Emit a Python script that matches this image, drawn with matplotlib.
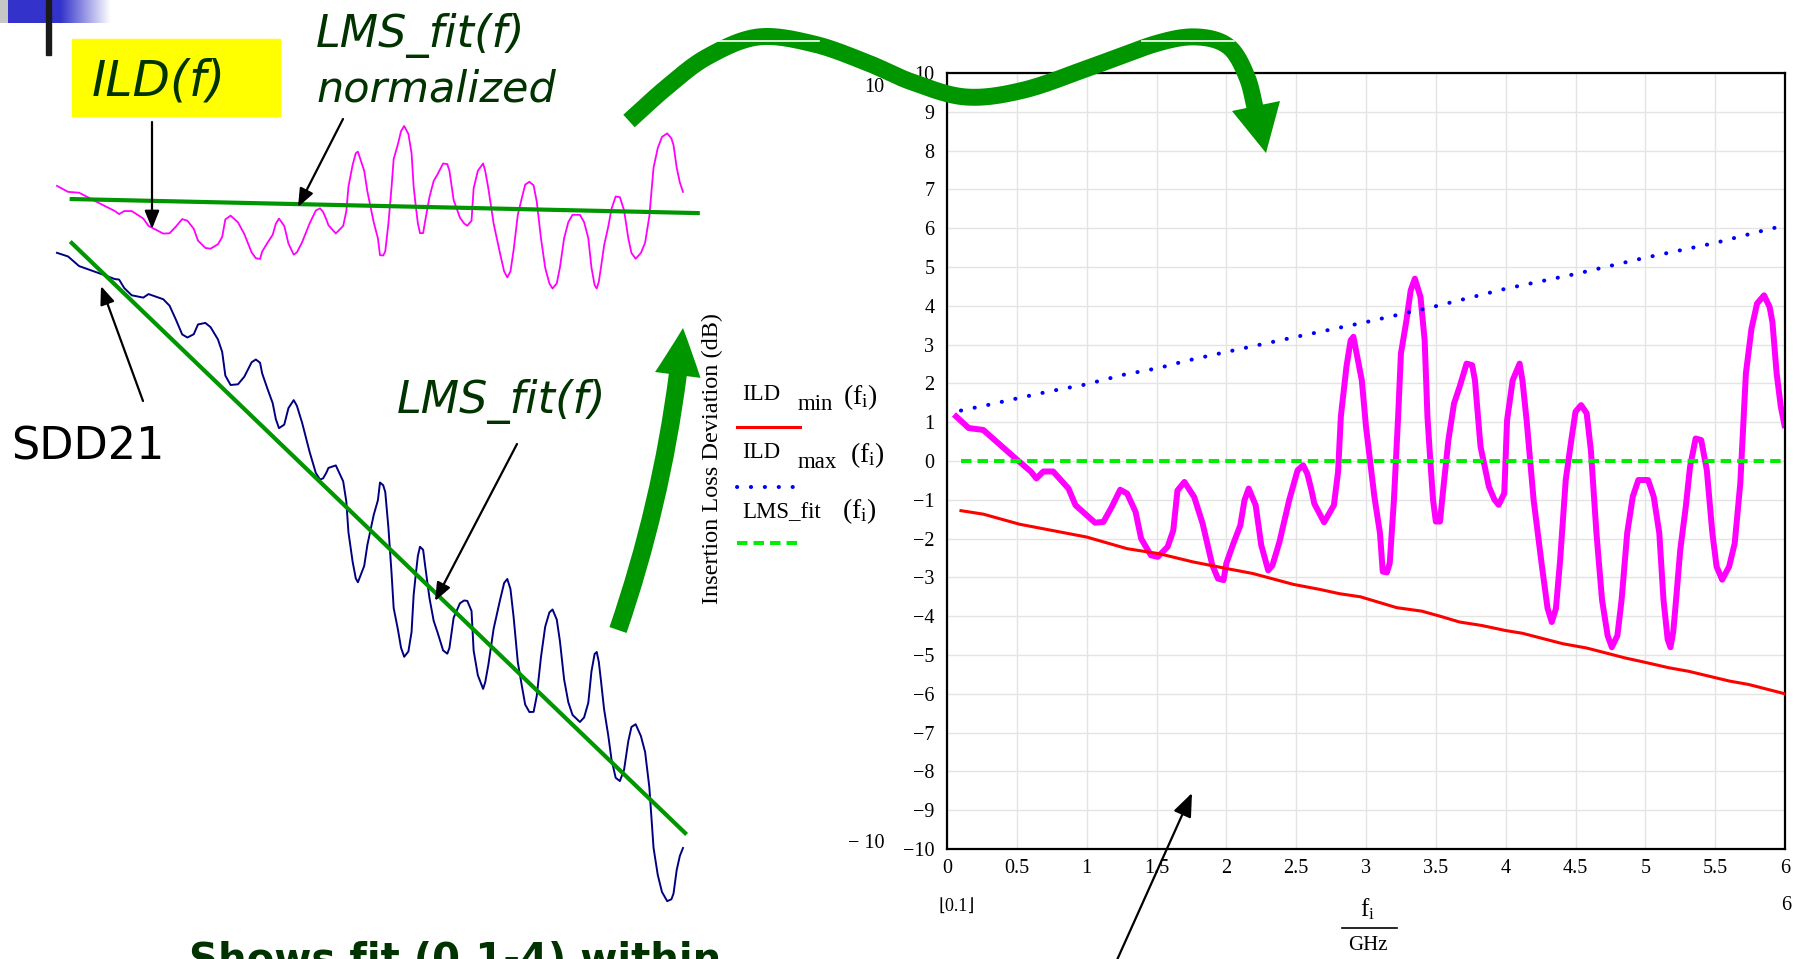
import numpy as np
import matplotlib
matplotlib.use("Agg")
import matplotlib.pyplot as plt
from matplotlib.lines import Line2D
from matplotlib.patches import FancyArrowPatch, Rectangle, Polygon

W, H = 1795, 959
plt.rcParams['mathtext.fontset'] = 'custom'
plt.rcParams['mathtext.rm'] = 'Liberation Serif'
plt.rcParams['mathtext.it'] = 'Liberation Serif:italic'
plt.rcParams['mathtext.bf'] = 'Liberation Serif:bold'

# ---------------- data ----------------
ild_f = [0.05, 0.155, 0.26, 0.31, 0.48, 0.60, 0.64, 0.69, 0.76, 0.87, 0.92, 1.06, 1.12, 1.18,
         1.24, 1.29, 1.35, 1.39, 1.46, 1.51, 1.58, 1.62, 1.65, 1.70, 1.77, 1.83, 1.90, 1.94,
         1.98, 2.00, 2.05, 2.10, 2.13, 2.16, 2.21, 2.25, 2.30, 2.33, 2.38, 2.45, 2.51, 2.55,
         2.58, 2.61, 2.63, 2.70, 2.77, 2.80, 2.82, 2.86, 2.89, 2.91, 2.97, 3.00, 3.06, 3.10,
         3.12, 3.15, 3.17, 3.20, 3.23, 3.25, 3.29, 3.32, 3.35, 3.39, 3.42, 3.44, 3.46, 3.48,
         3.50, 3.53, 3.55, 3.59, 3.63, 3.67, 3.72, 3.76, 3.78, 3.82, 3.88, 3.92, 3.95, 3.99,
         4.01, 4.05, 4.10, 4.12, 4.15, 4.20, 4.26, 4.30, 4.33, 4.36, 4.39, 4.43, 4.47, 4.50,
         4.54, 4.58, 4.61, 4.65, 4.69, 4.73, 4.76, 4.80, 4.83, 4.87, 4.91, 4.95, 5.02, 5.06,
         5.10, 5.13, 5.16, 5.18, 5.20, 5.22, 5.25, 5.29, 5.32, 5.36, 5.40, 5.44, 5.48, 5.51,
         5.55, 5.60, 5.64, 5.68, 5.72, 5.76, 5.80, 5.85, 5.89, 5.91, 5.94, 5.97, 6.00]
ild_v = [1.20, 0.85, 0.80, 0.64, 0.10, -0.27, -0.45, -0.27, -0.27, -0.71, -1.14, -1.59, -1.57, -1.18,
         -0.74, -0.84, -1.31, -2.00, -2.43, -2.47, -2.21, -1.79, -0.76, -0.54, -0.93, -1.61, -2.69, -3.03,
         -3.07, -2.64, -2.13, -1.66, -1.01, -0.71, -1.14, -2.17, -2.82, -2.69, -2.09, -1.01, -0.24, -0.11,
         -0.33, -0.76, -1.10, -1.58, -1.14, -0.28, 1.15, 2.43, 3.11, 3.20, 2.08, 0.88, -0.92, -1.86,
         -2.85, -2.87, -2.63, -1.00, 1.14, 2.77, 3.63, 4.40, 4.70, 4.23, 3.11, 1.14, 0.03, -1.00,
         -1.56, -1.56, -0.83, 0.54, 1.48, 1.91, 2.51, 2.47, 2.08, 0.37, -0.66, -1.00, -1.13, -0.83,
         1.05, 2.08, 2.51, 2.08, 1.05, -1.00, -2.72, -3.80, -4.15, -3.80, -2.55, -0.49, 0.54, 1.27,
         1.44, 1.23, 0.28, -1.86, -3.58, -4.50, -4.80, -4.50, -3.58, -1.86, -0.92, -0.49, -0.49, -0.92,
         -1.86, -3.58, -4.60, -4.80, -4.40, -3.58, -2.29, -1.17, -0.15, 0.58, 0.54, -0.23, -1.86, -2.72,
         -3.06, -2.72, -2.12, -0.57, 2.26, 3.41, 4.06, 4.27, 3.97, 3.58, 2.26, 1.40, 0.85]

ild_min_f = [0.1, 0.26, 0.52, 1.0, 1.29, 1.52, 1.76, 2.0, 2.19, 2.48, 2.67, 2.81, 2.96, 3.22, 3.40,
             3.53, 3.67, 3.83, 4.0, 4.12, 4.41, 4.58, 4.86, 5.0, 5.17, 5.31, 5.6, 5.74, 6.0]
ild_min_v = [-1.28, -1.37, -1.63, -1.96, -2.26, -2.39, -2.60, -2.77, -2.90, -3.18, -3.31, -3.42, -3.50,
             -3.78, -3.87, -4.0, -4.15, -4.24, -4.37, -4.44, -4.71, -4.82, -5.08, -5.19, -5.33, -5.42,
             -5.67, -5.76, -6.0]

ild_max_f = [0.1, 0.30, 0.46, 0.74, 0.99, 1.26, 1.52, 1.71, 2.0, 2.5, 3.0, 3.5, 4.0, 4.5, 5.0, 5.5, 5.91, 6.0]
ild_max_v = [1.30, 1.45, 1.58, 1.80, 1.97, 2.22, 2.40, 2.58, 2.81, 3.2, 3.58, 3.99, 4.44, 4.82, 5.24, 5.62, 6.0, 6.05]

lms_fit_f = [0.1, 6.0]
lms_fit_v = [0.0, 0.0]

# left-side sketch: normalized fit line, and the SDD21 LMS fit line (dB)
norm_fit_f = [0.19, 6.14]
norm_fit_v = [0.43, -0.39]
sdd_fit_f = [0.19, 6.02]
sdd_fit_db = [-3.0, -32.5]

x_ticks = [0, 0.5, 1, 1.5, 2, 2.5, 3, 3.5, 4, 4.5, 5, 5.5, 6]
x_tick_labels = ["0", "0.5", "1", "1.5", "2", "2.5", "3", "3.5", "4", "4.5", "5", "5.5", "6"]
y_ticks = list(range(-10, 11))
y_tick_labels = [("\u2212%d" % -v) if v < 0 else "%d" % v for v in y_ticks]

# ---------------- figure ----------------
fig = plt.figure(figsize=(W / 100, H / 100), dpi=100)
fig.patch.set_facecolor("white")


def fx(x):
    return x / W


def fy(y):
    return 1 - y / H


def add_ax(x0, y0, x1, y1, **kw):
    return fig.add_axes([fx(x0), fy(y1), (x1 - x0) / W, (y1 - y0) / H], **kw)


def T(x, y, s, **kw):
    return fig.text(fx(x), fy(y), s, **kw)


def fline(xs, ys, **kw):
    ln = Line2D([fx(v) for v in xs], [fy(v) for v in ys], transform=fig.transFigure, **kw)
    fig.add_artist(ln)
    return ln


def farrow(p0, p1, **kw):
    a = FancyArrowPatch((fx(p0[0]), fy(p0[1])), (fx(p1[0]), fy(p1[1])),
                        transform=fig.transFigure, shrinkA=0, shrinkB=0, **kw)
    fig.add_artist(a)
    return a


SERIF = "Liberation Serif"
DKGREEN = "#003300"
GREEN = "#009600"

# ---- main Mathcad chart ----
ax = add_ax(947, 73, 1785, 849)
ax.set_xlim(0, 6)
ax.set_ylim(-10, 10)
ax.set_xticks(x_ticks)
ax.set_xticklabels(x_tick_labels, fontfamily=SERIF)
ax.set_yticks(y_ticks)
ax.set_yticklabels(y_tick_labels, fontfamily=SERIF)
ax.tick_params(length=0, labelsize=14.5)
ax.tick_params(axis="x", pad=7)
ax.tick_params(axis="y", pad=9)
ax.grid(True, color="#e4e4e4", lw=1.0)
ax.set_axisbelow(True)
for sp in ax.spines.values():
    sp.set_linewidth(1.6)
ax.plot(ild_f, ild_v, color="#ff00ff", lw=4.3, solid_joinstyle="round", solid_capstyle="butt", zorder=2)
ax.plot(ild_min_f, ild_min_v, color="#ff0000", lw=2.2, zorder=3)
ax.plot(ild_max_f, ild_max_v, color="#0000ff", lw=2.9, ls=(0, (0.05, 3.4)), dash_capstyle="round", zorder=3)
ax.plot(lms_fit_f, lms_fit_v, color="#00ee00", lw=2.9, ls=(0, (2.6, 1.5)), zorder=3)

# axis labels & Mathcad range labels
T(712, 459, "Insertion Loss Deviation (dB)", rotation=90, ha="center", va="center",
  fontsize=17.5, fontfamily=SERIF)
T(1368, 909, r"$\mathrm{f_i}$", ha="center", va="center", fontsize=18)
fline([1342, 1397], [928, 928], color="black", lw=1.2)
T(1368, 946, "GHz", ha="center", va="center", fontsize=15, fontfamily=SERIF)
T(884, 88, "10", ha="right", va="center", fontsize=14.5, fontfamily=SERIF)
T(884, 844, "\u2212 10", ha="right", va="center", fontsize=14.5, fontfamily=SERIF)
T(957, 906, "\u230a0.1\u230b", ha="center", va="center", fontsize=13, fontfamily=["Liberation Serif", "DejaVu Sans"])
T(1786, 906, "6", ha="center", va="center", fontsize=14.5, fontfamily=SERIF)

# legend
leg_items = [("min", 395, 427, dict(color="#ff0000", lw=2.2)),
             ("max", 453, 487, dict(color="#0000ff", lw=2.9, ls=(0, (0.05, 3.4)), dash_capstyle="round")),
             (None, 513, 543, dict(color="#00ee00", lw=2.9, ls=(0, (2.6, 1.5))))]
for sub, ty, ly, st in leg_items:
    if sub is None:
        T(742, ty, "LMS_fit", ha="left", va="center", fontsize=16.5, fontfamily=SERIF)
        T(842, ty - 2, r"$(\mathrm{f_i})$", ha="left", va="center", fontsize=20)
    else:
        T(742, ty, "ILD", ha="left", va="center", fontsize=16.5, fontfamily=SERIF)
        T(798, ty + 10, sub, ha="left", va="center", fontsize=16.5, fontfamily=SERIF)
        T(843 if sub == "min" else 850, ty + 2, r"$(\mathrm{f_i})$", ha="left", va="center", fontsize=20)
    fline([737, 800], [ly, ly], **st)

# ---- left sketch: ILD(f) with normalized fit ----
axm = add_ax(57, 100, 683, 320)
axm.set_xlim(0.05, 6.0)
axm.set_ylim(-6.64, 6.22)
axm.axis("off")
axm.plot(ild_f, ild_v, color="#ff00ff", lw=1.3, clip_on=False)
axm.plot(norm_fit_f, norm_fit_v, color=GREEN, lw=3.0, clip_on=False)

# ---- left sketch: SDD21 with LMS fit ----
axs = add_ax(57, 200, 683, 900)
axs.set_xlim(0.05, 6.0)
axs.set_ylim(-35.85, -0.85)
axs.axis("off")
slope = (sdd_fit_db[1] - sdd_fit_db[0]) / (sdd_fit_f[1] - sdd_fit_f[0])
fit_at = sdd_fit_db[0] + slope * (np.asarray(ild_f) - sdd_fit_f[0])
sdd21 = fit_at - np.asarray(ild_v)
axs.plot(ild_f, sdd21, color="#000080", lw=1.4, clip_on=False)
axs.plot(sdd_fit_f, sdd_fit_db, color=GREEN, lw=3.0, clip_on=False)

# ---- slide decorations ----
deco = add_ax(0, 0, 110, 23)
grad = np.ones((1, 110, 3))
blue = np.array([0.2, 0.2, 0.8])
for i in range(110):
    if i < 8:
        grad[0, i] = [0.78, 0.78, 0.78]
    elif i < 60:
        grad[0, i] = blue
    else:
        t = (i - 60) / 50
        grad[0, i] = blue * (1 - t) + np.ones(3) * t
deco.imshow(grad, aspect="auto", extent=(0, 110, 23, 0))
deco.axis("off")
fig.add_artist(Rectangle((fx(46), fy(55)), 5 / W, 55 / H, transform=fig.transFigure,
                         color="#1a1a1a", zorder=5))

fig.add_artist(Rectangle((fx(72), fy(116)), (280 - 72) / W, (116 - 39) / H, transform=fig.transFigure,
                         color="#ffff00", zorder=1))
T(92, 82, "ILD(f)", ha="left", va="center", fontsize=35, style="italic", color=DKGREEN,
  fontfamily="DejaVu Sans", zorder=6)
T(316, 36, "LMS_fit(f)", ha="left", va="center", fontsize=32, style="italic", color=DKGREEN,
  fontfamily="DejaVu Sans")
T(316, 89, "normalized", ha="left", va="center", fontsize=31, style="italic", color=DKGREEN,
  fontfamily="DejaVu Sans")
T(397, 402, "LMS_fit(f)", ha="left", va="center", fontsize=32, style="italic", color=DKGREEN,
  fontfamily="DejaVu Sans")
T(11, 447, "SDD21", ha="left", va="center", fontsize=32, color="black", fontfamily="DejaVu Sans")
# bottom caption: only the top of its glyphs lies inside the slide area
T(189, 972, "Shows fit (0.1-4) within", ha="left", va="baseline", fontsize=29, fontweight="bold",
  color=DKGREEN, fontfamily="DejaVu Sans")

# black annotation arrows
arr_kw = dict(arrowstyle="-|>,head_length=0.55,head_width=0.22", mutation_scale=20, lw=1.6, color="black", zorder=6)
farrow((152, 122), (152, 229), **arr_kw)
farrow((343, 119), (298, 207), **arr_kw)
farrow((143, 401), (101, 286), **arr_kw)
farrow((517, 444), (435, 601), **arr_kw)
farrow((1117, 960), (1192, 793), **dict(arr_kw, mutation_scale=26))

# green curved up arrow
farrow((618, 630), (683, 328), arrowstyle="simple,head_length=34,head_width=33,tail_width=13",
       connectionstyle="arc3,rad=0.06", mutation_scale=1, color=GREEN, lw=0, zorder=4)


# green wavy arrow
def catmull(pts, n=24):
    pts = np.asarray(pts, float)
    P = np.vstack([2 * pts[0] - pts[1], pts, 2 * pts[-1] - pts[-2]])
    out = []
    t = np.linspace(0, 1, n, endpoint=False)[:, None]
    for i in range(1, len(P) - 2):
        p0, p1, p2, p3 = P[i - 1], P[i], P[i + 1], P[i + 2]
        out.append(0.5 * ((2 * p1) + (-p0 + p2) * t + (2 * p0 - 5 * p1 + 4 * p2 - p3) * t ** 2
                          + (-p0 + 3 * p1 - 3 * p2 + p3) * t ** 3))
    out.append(pts[-1:])
    return np.vstack(out)


wave_pts = [(629, 121), (667, 87), (707, 57), (758, 37), (814, 44), (868, 63), (912, 82), (966, 97),
            (1024, 90), (1091, 67), (1158, 43), (1198, 37), (1229, 47), (1247, 77), (1256, 112)]
cv = catmull(wave_pts)
fline(cv[:, 0], cv[:, 1], color=GREEN, lw=12.2, solid_capstyle="butt", solid_joinstyle="round", zorder=4)
fig.add_artist(Polygon([(fx(1232), fy(111)), (fx(1280), fy(101)), (fx(1266), fy(153))],
                       closed=True, transform=fig.transFigure, color=GREEN, lw=0, zorder=4))
fline([709, 819], [41, 41], color="white", lw=1.2, zorder=5)
fline([1142, 1234], [41, 41], color="white", lw=1.2, zorder=5)

fig.savefig("out.png", dpi=100, facecolor="white")
